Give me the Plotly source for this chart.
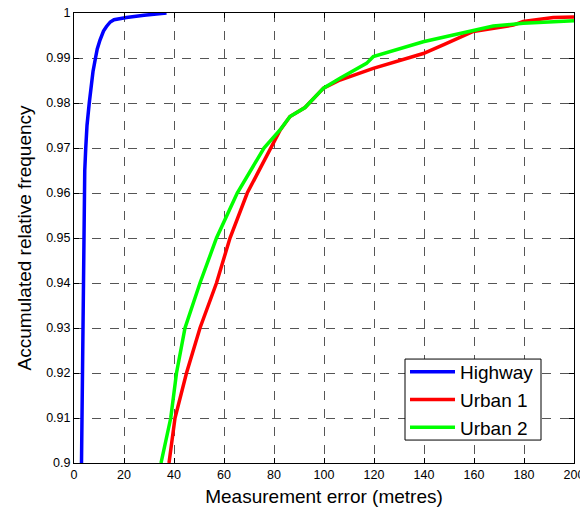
import plotly.graph_objects as go

# ---- data ----
highway_x = [3.0, 3.1, 3.3, 3.4, 3.5, 3.8, 4.0, 4.1, 4.3, 4.7, 5.2, 6.1, 6.7, 7.6, 8.6, 9.3, 10.4, 11.8, 13.0, 14.5, 16.0, 21.0, 28.0, 37.0]
highway_y = [0.9, 0.905, 0.91, 0.92, 0.93, 0.935, 0.947, 0.96, 0.965, 0.97, 0.975, 0.98, 0.983, 0.987, 0.99, 0.992, 0.994, 0.996, 0.997, 0.998, 0.9985, 0.999, 0.9995, 1.0]

urban1_x = [38.0, 40.4, 45.0, 50.4, 57.0, 62.4, 69.3, 78.7, 82.5, 86.4, 92.4, 99.8, 106.4, 119.7, 139.7, 147.7, 159.7, 175.7, 179.7, 191.7, 200.0]
urban1_y = [0.9, 0.91, 0.92, 0.93, 0.94, 0.95, 0.96, 0.97, 0.974, 0.977, 0.979, 0.9833, 0.9851, 0.9877, 0.991, 0.9929, 0.9959, 0.9973, 0.9981, 0.999, 0.9991]

urban2_x = [34.8, 38.7, 41.0, 44.4, 50.4, 57.0, 65.3, 76.0, 82.4, 86.4, 92.4, 99.8, 106.4, 117.0, 119.7, 139.7, 151.7, 159.7, 167.7, 179.7, 200.0]
urban2_y = [0.9, 0.91, 0.92, 0.93, 0.94, 0.95, 0.96, 0.97, 0.974, 0.977, 0.979, 0.9833, 0.9855, 0.9888, 0.9903, 0.9936, 0.9951, 0.9962, 0.9971, 0.9977, 0.9983]

x_ticks = [0, 20, 40, 60, 80, 100, 120, 140, 160, 180, 200]
y_ticks = [0.9, 0.91, 0.92, 0.93, 0.94, 0.95, 0.96, 0.97, 0.98, 0.99, 1.0]
y_ticktext = ["0.9", "0.91", "0.92", "0.93", "0.94", "0.95", "0.96", "0.97", "0.98", "0.99", "1"]

series = [
    ("Highway", highway_x, highway_y, "#0000FF"),
    ("Urban 1", urban1_x, urban1_y, "#FF0000"),
    ("Urban 2", urban2_x, urban2_y, "#00FF00"),
]

fig = go.Figure()
for name, xs, ys, col in series:
    fig.add_trace(go.Scatter(x=xs, y=ys, mode="lines", name=name,
                             line=dict(color=col, width=3.5)))

font = "Liberation Sans, Arial, sans-serif"
axis_common = dict(
    showgrid=True, gridcolor="#555555", griddash="dash", gridwidth=1,
    zeroline=False, showline=True, linecolor="black", linewidth=1, mirror="ticks",
    ticks="inside", ticklen=5, tickcolor="black", automargin=False,
    ticklabeloverflow="allow",
    tickfont=dict(family=font, size=12.5, color="black"),
)

# legend frame (white box with black border) drawn as a shape
fig.add_shape(type="rect", xref="paper", yref="paper",
              x0=0.662, x1=0.934, y0=0.051, y1=0.231,
              fillcolor="white", line=dict(color="black", width=1), layer="above")

fig.update_layout(
    width=580, height=510,
    margin=dict(l=74, r=6, t=13, b=47),
    paper_bgcolor="white", plot_bgcolor="white",
    font=dict(family=font, color="black"),
    xaxis=dict(range=[0, 200], tickvals=x_ticks,
               title=dict(text="Measurement error (metres)", font=dict(size=19), standoff=8),
               **axis_common),
    yaxis=dict(range=[0.9, 1.0], tickvals=y_ticks, ticktext=y_ticktext,
               title=dict(text="Accumulated relative frequency", font=dict(size=19), standoff=9),
               **axis_common),
    legend=dict(x=0.662, y=0.2444, xanchor="left", yanchor="top",
                bgcolor="rgba(0,0,0,0)", borderwidth=0,
                font=dict(family=font, size=19, color="black"),
                tracegroupgap=0, itemwidth=45),
    showlegend=True,
)

fig.write_html("out.html", config={"displayModeBar": False},
               post_script="document.body.style.margin='0px';")
